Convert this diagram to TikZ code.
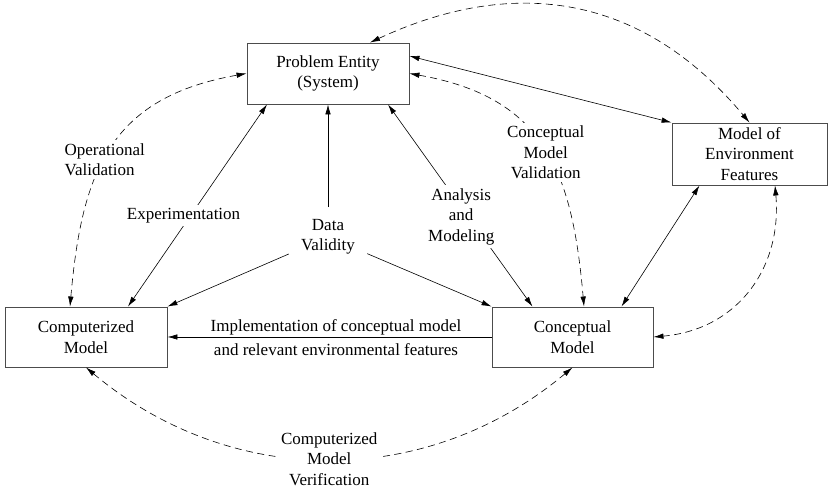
\documentclass[tikz,border=0pt]{standalone}
\usepackage{fontspec}
\setmainfont{Liberation Serif}
\usetikzlibrary{arrows.meta}
\begin{document}
\begin{tikzpicture}[x=1pt, y=1pt, font=\fontsize{17}{20.5}\selectfont,
    >={Latex[length=10pt,width=5.5pt]}, line width=0.6pt,
    bx/.style={draw=black!70, line width=0.9pt, align=center, inner sep=2pt},
    lb/.style={fill=white, align=center, inner sep=3pt},
    dsh/.style={dash pattern=on 7pt off 4.5pt}]
  \useasboundingbox (0,0) rectangle (828,490);
  \node[bx, minimum width=162pt, minimum height=61pt] (pe) at (328,416.5) {Problem Entity\\(System)};
  \node[bx, minimum width=155pt, minimum height=62pt] (moe) at (749.5,336) {Model of\\Environment\\Features};
  \node[bx, minimum width=161pt, minimum height=60pt] (cp) at (572.5,153) {Conceptual\\Model};
  \node[bx, minimum width=162pt, minimum height=60pt] (cm) at (86,153) {Computerized\\Model};
  \node[lb, inner sep=12pt] (dv) at (328,253) {Data\\Validity};

  % solid connectors
  \draw[->] (cp.west) -- node[pos=0.48, above, inner sep=1.5pt]{Implementation of conceptual model}
    node[pos=0.48, below, inner sep=6pt]{and relevant environmental features} (cm.east);
  \draw[<->] ([xshift=42pt]cm.north) -- node[lb, pos=0.45, xshift=-7pt]{Experimentation} ([xshift=-61pt]pe.south);
  \draw[<->] ([xshift=60pt]pe.south) -- node[lb, pos=0.555, xshift=-7pt]{Analysis\\and\\Modeling} ([xshift=-40pt]cp.north);
  \draw[->] (dv) -- (pe.south);
  \draw[->] (dv) -- (cm.north east);
  \draw[->] (dv) -- (cp.north west);
  \draw[<->] ([yshift=17.5pt]pe.east) -- (moe.north west);
  \draw[<->] ([xshift=49pt]cp.north) -- ([xshift=-50pt]moe.south);

  % dashed validation and verification loops
  \draw[dsh, <->] ([xshift=-16pt]cm.north) to[out=85, in=190, looseness=1.2]
    node[lb, align=left, pos=0.45]{Operational\\Validation} (pe.west);
  \draw[dsh, <->] (pe.east) to[out=-10, in=95, looseness=1.2]
    node[lb, pos=0.52]{Conceptual\\Model\\Validation} ([xshift=11.5pt]cp.north);
  \draw[dsh, <->] (cm.south) to[out=-40, in=-140]
    node[lb]{Computerized\\Model\\Verification} (cp.south);
  \draw[dsh, <->] ([xshift=25.5pt]moe.south) to[out=-85, in=5, looseness=1.1] (cp.east);
  \draw[dsh, <->] ([xshift=42pt]pe.north) to[out=25, in=130, out distance=120pt, in distance=200pt] (moe.north);
\end{tikzpicture}
\end{document}
